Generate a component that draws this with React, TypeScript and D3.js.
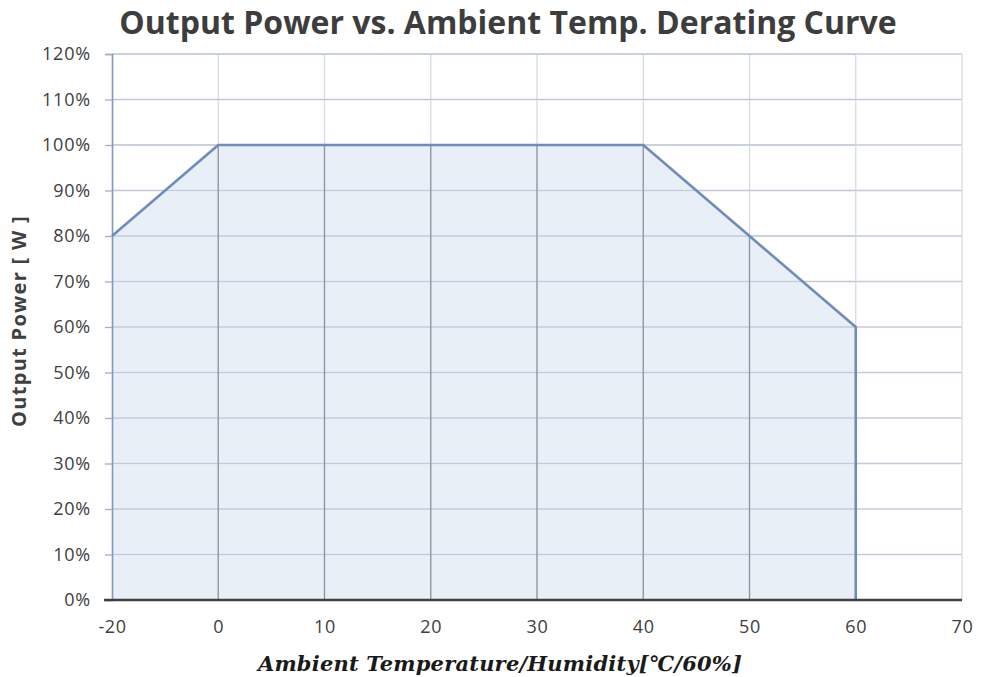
import React, { useRef, useEffect } from 'react';
import { select, scalePoint, scaleLinear, area, line, axisLeft, axisBottom } from 'd3';

// x axis in the original is a category axis, so -20 -> 0 gets the same width as 0 -> 10
const temps = ['-20', '0', '10', '20', '30', '40', '50', '60', '70'];
const outputPct: (number | null)[] = [80, 100, 100, 100, 100, 100, 80, 60, null];
const yTicks = [0, 10, 20, 30, 40, 50, 60, 70, 80, 90, 100, 110, 120];

const W = 981;
const H = 677;
const margin = { top: 54, right: 19, bottom: 77, left: 112 };

const tickFont = '"Open Sans", sans-serif';

export default function App() {
    const svgRef = useRef<SVGSVGElement>(null);

    useEffect(() => {
        const svg = select(svgRef.current);
        svg.selectAll('*').remove();

        const x = scalePoint<string>()
            .domain(temps)
            .range([margin.left, W - margin.right]);
        const y = scaleLinear()
            .domain([0, 120])
            .range([H - margin.bottom, margin.top]);

        const data = temps.map((t, i) => ({ t, v: outputPct[i] }));
        const defined = data.filter(d => d.v != null);

        // horizontal grid
        svg.append('g')
            .selectAll('line')
            .data(yTicks.filter(d => d > 0))
            .join('line')
            .attr('x1', margin.left)
            .attr('x2', W - margin.right)
            .attr('y1', d => y(d))
            .attr('y2', d => y(d))
            .attr('stroke', '#c3ccd8')
            .attr('stroke-width', 1.3);

        // vertical grid
        svg.append('g')
            .selectAll('line')
            .data(temps.slice(1))
            .join('line')
            .attr('x1', d => x(d)!)
            .attr('x2', d => x(d)!)
            .attr('y1', margin.top)
            .attr('y2', y(0))
            .attr('stroke', '#d6dbe3')
            .attr('stroke-width', 1.3);

        // filled area
        const areaGen = area<{ t: string; v: number | null }>()
            .x(d => x(d.t)!)
            .y0(y(0))
            .y1(d => y(d.v as number));
        svg.append('path')
            .datum(defined)
            .attr('d', areaGen)
            .attr('fill', '#dce6f2')
            .attr('fill-opacity', 0.65);

        // horizontal grid again, faintly, over the fill
        svg.append('g')
            .selectAll('line')
            .data(yTicks.filter(d => d > 0))
            .join('line')
            .attr('x1', margin.left)
            .attr('x2', x(defined[defined.length - 1].t)!)
            .attr('y1', d => y(d))
            .attr('y2', d => y(d))
            .attr('stroke', '#bcc6d4')
            .attr('stroke-width', 1.2)
            .attr('stroke-opacity', 0.8);

        // drop lines under the points
        svg.append('g')
            .selectAll('line')
            .data(defined.slice(1, -1))
            .join('line')
            .attr('x1', d => x(d.t)!)
            .attr('x2', d => x(d.t)!)
            .attr('y1', d => y(d.v as number))
            .attr('y2', y(0))
            .attr('stroke', '#8e949d')
            .attr('stroke-width', 1.3);

        // y axis
        const yAxis = svg.append('g')
            .attr('transform', `translate(${margin.left},0)`)
            .call(axisLeft(y).tickValues(yTicks).tickFormat(d => `${d}%`).tickSize(7).tickPadding(14));
        yAxis.select('.domain').attr('stroke', '#7f98bd').attr('stroke-width', 1.6);
        yAxis.selectAll('.tick line').attr('stroke', '#9fb0c8').attr('stroke-width', 1.3);
        yAxis.selectAll('.tick text')
            .attr('font-family', tickFont)
            .attr('font-size', 18)
            .attr('letter-spacing', 0.8)
            .attr('fill', '#404040');

        // outline: the curve plus the drop at the last point
        const last = defined[defined.length - 1];
        const outline = [...defined, { t: last.t, v: 0 }];
        const lineGen = line<{ t: string; v: number | null }>()
            .x(d => x(d.t)!)
            .y(d => y(d.v as number));
        svg.append('path')
            .datum(outline)
            .attr('d', lineGen)
            .attr('fill', 'none')
            .attr('stroke', '#6f8cbb')
            .attr('stroke-width', 2.6)
            .attr('stroke-linejoin', 'round');

        // x axis
        const xAxis = svg.append('g')
            .attr('transform', `translate(0,${y(0)})`)
            .call(axisBottom(x).tickSize(0).tickPadding(20));
        xAxis.select('.domain')
            .attr('d', `M${margin.left - 8},0H${W - margin.right}`)
            .attr('stroke', '#404040')
            .attr('stroke-width', 2.4);
        xAxis.selectAll('.tick text')
            .attr('font-family', tickFont)
            .attr('font-size', 18)
            .attr('letter-spacing', 0.6)
            .attr('fill', '#404040');

        // titles
        svg.append('text')
            .attr('x', 508)
            .attr('y', 34)
            .attr('text-anchor', 'middle')
            .attr('font-family', '"Open Sans", sans-serif')
            .attr('font-weight', 'bold')
            .attr('font-size', 32)
            .attr('fill', '#3d3d3d')
            .text('Output Power vs. Ambient Temp. Derating Curve');

        svg.append('text')
            .attr('x', 500)
            .attr('y', 671)
            .attr('text-anchor', 'middle')
            .attr('font-family', '"DejaVu Serif", serif')
            .attr('font-weight', 'bold')
            .attr('font-style', 'italic')
            .attr('font-size', 21)
            .attr('letter-spacing', 0.2)
            .attr('fill', '#1a1a1a')
            .text('Ambient Temperature/Humidity[℃/60%]');

        svg.append('text')
            .attr('transform', `translate(26,${(margin.top + y(0)) / 2 - 6}) rotate(-90)`)
            .attr('text-anchor', 'middle')
            .attr('font-family', '"Open Sans", sans-serif')
            .attr('font-weight', 'bold')
            .attr('font-size', 20)
            .attr('letter-spacing', 1.3)
            .attr('fill', '#404040')
            .text('Output Power [ W ]');
    }, []);

    return (
        <div style={{ position: 'absolute', left: 0, top: 0 }}>
            <svg ref={svgRef} width={W} height={H} style={{ display: 'block', background: '#fff' }} />
        </div>
    );
}
